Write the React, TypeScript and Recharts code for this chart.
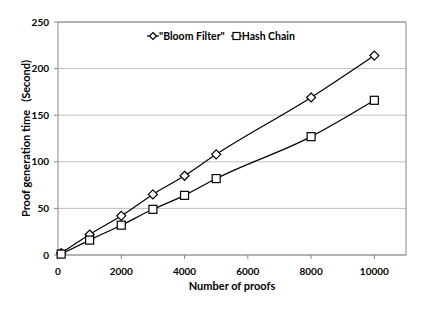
import { LineChart, Line, XAxis, YAxis, CartesianGrid, ReferenceLine } from 'recharts';

const proofCounts = [100, 1000, 2000, 3000, 4000, 5000, 8000, 10000];
const bloomFilterTimes = [2, 22, 42, 65, 85, 108, 169, 214];
const hashChainTimes = [1, 16, 32, 49, 64, 82, 127, 166];
const xTicks = [0, 2000, 4000, 6000, 8000, 10000];
const yTicks = [0, 50, 100, 150, 200, 250];

const data = proofCounts.map((n, i) => ({
  n,
  bloom: bloomFilterTimes[i],
  hash: hashChainTimes[i],
}));

const FONT = 'Lato, "Open Sans", sans-serif';

const Diamond = (props: any) => {
  const { cx, cy } = props;
  if (cx == null || cy == null) return null;
  const r = 4.5;
  return (
    <path
      d={`M${cx},${cy - r}L${cx + r},${cy}L${cx},${cy + r}L${cx - r},${cy}Z`}
      fill="#fff"
      stroke="#000"
      strokeWidth={1.2}
    />
  );
};

const Square = (props: any) => {
  const { cx, cy } = props;
  if (cx == null || cy == null) return null;
  const r = 4;
  return <rect x={cx - r} y={cy - r} width={r * 2} height={r * 2} fill="#fff" stroke="#000" strokeWidth={1.2} />;
};

// rotated y title, centred on the plot height
const YTitle = (props: any) => {
  const { viewBox } = props;
  const cy = viewBox.y + viewBox.height / 2;
  return (
    <text
      x={25}
      y={cy}
      transform={`rotate(-90, 25, ${cy})`}
      textAnchor="middle"
      dominantBaseline="central"
      fontFamily={FONT}
      fontWeight={700}
      fontSize={11}
      fill="#000"
    >
      {'Proof generation time\u00a0\u00a0\u00a0(Second)'}
    </text>
  );
};

// legend sits inside the plot, so it's an overlay rather than recharts' Legend (which eats plot space)
const ChartLegend = () => (
  <div
    style={{
      position: 'absolute',
      top: 29,
      left: 147,
      display: 'flex',
      fontFamily: FONT,
      fontWeight: 700,
      fontSize: 10.5,
      lineHeight: '14px',
      color: '#000',
    }}
  >
    <span style={{ display: 'flex', alignItems: 'center', marginRight: 6 }}>
      <svg width={12} height={10}>
        <line x1={0} y1={5} x2={12} y2={5} stroke="#000" strokeWidth={1.2} />
        <path d="M6,1.5L9.5,5L6,8.5L2.5,5Z" fill="#fff" stroke="#000" strokeWidth={1.2} />
      </svg>
      "Bloom Filter"
    </span>
    <span style={{ display: 'flex', alignItems: 'center' }}>
      <svg width={11} height={10}>
        <line x1={0} y1={5} x2={11} y2={5} stroke="#000" strokeWidth={1.2} />
        <rect x={2} y={1.5} width={7} height={7} fill="#fff" stroke="#000" strokeWidth={1.2} />
      </svg>
      Hash Chain
    </span>
  </div>
);

export default function App() {
  return (
    <div style={{ position: 'absolute', left: 0, top: 0, width: 443, height: 313, background: '#fff' }}>
      <LineChart width={443} height={313} data={data} margin={{ top: 22, right: 37, bottom: 16, left: 0 }}>
        <CartesianGrid vertical={false} stroke="#bfbfbf" />
        <XAxis
          dataKey="n"
          type="number"
          domain={[0, 11000]}
          ticks={xTicks}
          stroke="#868686"
          tickSize={4}
          tickMargin={9}
          height={42}
          tick={{ fontFamily: FONT, fontWeight: 700, fontSize: 10, fill: '#000' }}
          label={{ value: 'Number of proofs', position: 'insideBottom', offset: 7, fontFamily: FONT, fontWeight: 700, fontSize: 11, fill: '#000' }}
        />
        <YAxis
          domain={[0, 250]}
          ticks={yTicks}
          width={58}
          stroke="#868686"
          tickSize={4}
          tickMargin={5}
          tick={{ fontFamily: FONT, fontWeight: 700, fontSize: 10, fill: '#000' }}
          label={<YTitle />}
        />
        <ReferenceLine x={11000} stroke="#868686" />
        <ReferenceLine y={250} stroke="#868686" />
        <Line dataKey="bloom" type="monotone" stroke="#000" strokeWidth={1.2} dot={<Diamond />} isAnimationActive={false} />
        <Line dataKey="hash" type="monotone" stroke="#000" strokeWidth={1.2} dot={<Square />} isAnimationActive={false} />
      </LineChart>
      <ChartLegend />
    </div>
  );
}
